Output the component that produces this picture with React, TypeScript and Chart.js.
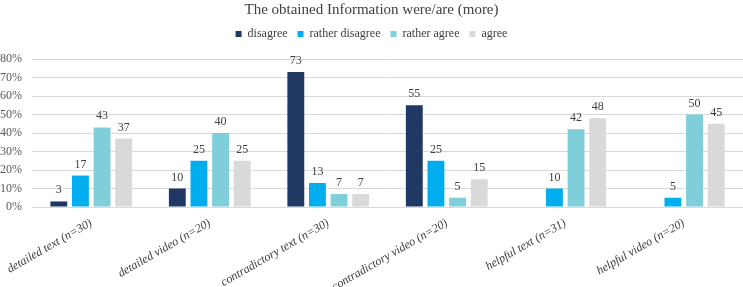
import React, { useEffect, useRef } from "react";
import { Chart, registerables } from "chart.js";

Chart.register(...registerables);

const categories = [
  "detailed text (n=30)",
  "detailed video (n=20)",
  "contradictory text (n=30)",
  "contradictory video (n=20)",
  "helpful text (n=31)",
  "helpful video (n=20)",
];
const disagree = [3, 10, 73, 55, 0, 0];
const ratherDisagree = [17, 25, 13, 25, 10, 5];
const ratherAgree = [43, 40, 7, 5, 42, 50];
const agree = [37, 25, 7, 15, 48, 45];
const seriesNames = ["disagree", "rather disagree", "rather agree", "agree"];
const seriesColors = ["#1f3864", "#00aeef", "#7fcfdb", "#d9d9d9"];
const yMin = 0;
const yMax = 80;
const yStep = 10;
const titleText = "The obtained Information were/are (more)";

const FONT = "'Liberation Serif', 'Times New Roman', serif";

const valueLabels = {
  id: "valueLabels",
  afterDatasetsDraw(chart: any) {
    const ctx = chart.ctx;
    ctx.save();
    ctx.font = `12px ${FONT}`;
    ctx.fillStyle = "#404040";
    ctx.textAlign = "center";
    ctx.textBaseline = "alphabetic";
    chart.data.datasets.forEach((ds: any, i: number) => {
      const meta = chart.getDatasetMeta(i);
      meta.data.forEach((el: any, j: number) => {
        const v = ds.data[j];
        if (!v) return;
        ctx.fillText(String(v), el.x, el.y - 8);
      });
    });
    ctx.restore();
  },
};

export default function App() {
  const ref = useRef<HTMLCanvasElement | null>(null);
  useEffect(() => {
    document.body.style.margin = "0";
    const values = [disagree, ratherDisagree, ratherAgree, agree];
    const chart = new Chart(ref.current!, {
      type: "bar",
      data: {
        labels: categories,
        datasets: seriesNames.map((name, i) => ({
          label: name,
          data: values[i],
          backgroundColor: seriesColors[i],
          borderWidth: 0,
          categoryPercentage: 0.73,
          barPercentage: 0.78,
        })),
      },
      options: {
        animation: false,
        responsive: false,
        devicePixelRatio: 1,
        layout: { padding: 0 },
        plugins: {
          title: {
            display: true,
            text: titleText,
            color: "#404040",
            font: { family: FONT, size: 15, weight: "normal" },
            padding: { top: 1, bottom: -1 },
          },
          subtitle: {
            display: true,
            text: " ",
            weight: 500,
            font: { family: FONT, size: 1, lineHeight: 1 },
            padding: { top: 0, bottom: 8 },
          },
          legend: {
            display: true,
            position: "top",
            labels: {
              color: "#404040",
              font: { family: FONT, size: 12 },
              boxWidth: 6,
              boxHeight: 6,
              padding: 10,
            },
          },
          tooltip: { enabled: false },
        },
        scales: {
          x: {
            grid: { display: false, drawTicks: false },
            border: { display: true, color: "#d9d9d9" },
            ticks: {
              color: "#404040",
              font: { family: FONT, size: 12, style: "italic" },
              minRotation: 30,
              maxRotation: 30,
              autoSkip: false,
              padding: 9,
            },
            afterFit: (s: any) => {
              s.height = 80;
              s.paddingLeft = 0;
              s.paddingRight = 0;
            },
          },
          y: {
            min: yMin,
            max: yMax,
            grid: { color: "#d9d9d9", drawTicks: false },
            border: { display: false },
            ticks: {
              stepSize: yStep,
              autoSkip: false,
              color: "#595959",
              font: { family: FONT, size: 12 },
              padding: 10,
              callback: (v: any) => v + "%",
            },
            afterFit: (s: any) => {
              s.width = 32;
            },
          },
        },
      },
      plugins: [valueLabels],
    });
    return () => chart.destroy();
  }, []);
  return (
    <div style={{ width: 743, height: 287 }}>
      <canvas ref={ref} width={743} height={287} />
    </div>
  );
}
